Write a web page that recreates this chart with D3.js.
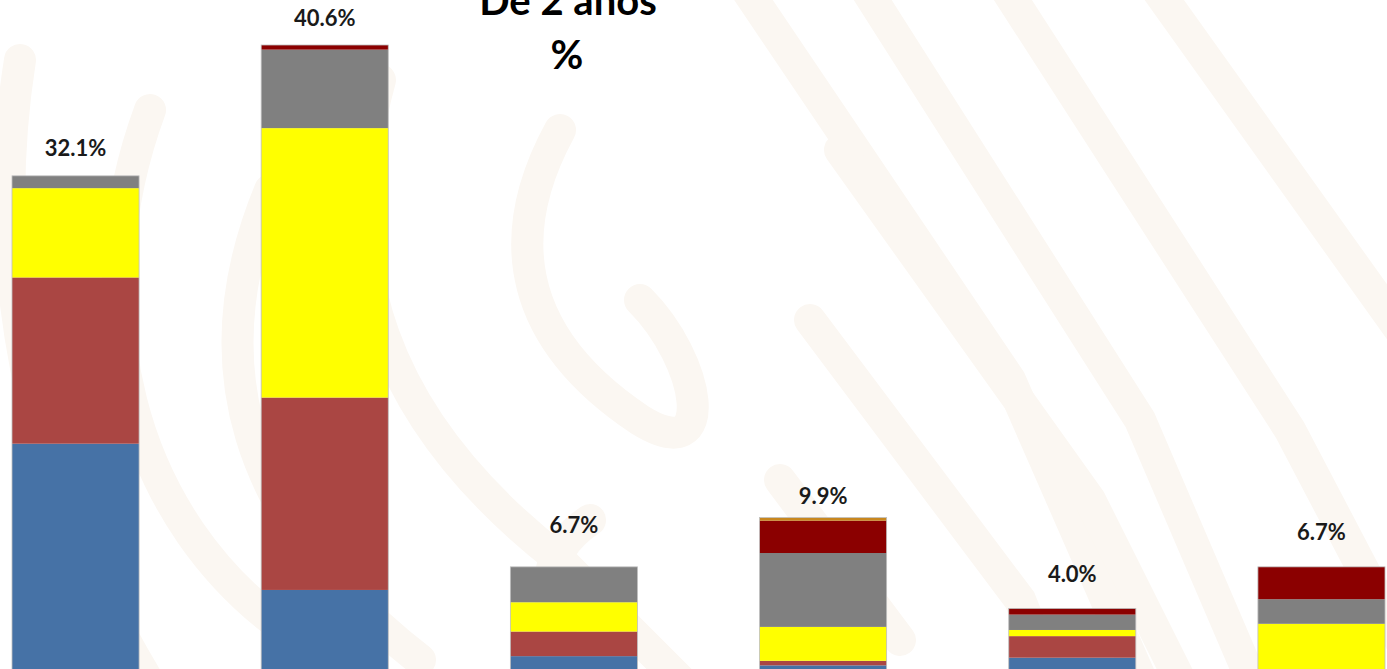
<!DOCTYPE html>
<html>
<head>
<meta charset="utf-8">
<script src="https://cdn.jsdelivr.net/npm/d3@7"></script>
<style>
  html, body { margin: 0; padding: 0; background: #ffffff; overflow: hidden; }
  svg { display: block; }
</style>
</head>
<body>
<div id="chart"></div>
<script>
// chart values (percent)
const categories = ['G1', 'G2', 'G3', 'G4', 'G5', 'G6'];
const serieNames = ['s1', 's2', 's3', 's4', 's5', 's6'];
const s1 = [14.7, 5.2, 0.9, 0.3, 0.8, 0.0];   // blue
const s2 = [10.8, 12.5, 1.6, 0.3, 1.4, 0.0];  // red
const s3 = [5.8, 17.5, 1.9, 2.2, 0.4, 3.0];   // yellow
const s4 = [0.8, 5.1, 2.3, 4.8, 1.0, 1.6];    // gray
const s5 = [0.0, 0.3, 0.0, 2.1, 0.4, 2.1];    // dark red
const s6 = [0.0, 0.0, 0.0, 0.2, 0.0, 0.0];    // orange
const totals = [32.1, 40.6, 6.7, 9.9, 4.0, 6.7];
const titleLines = ['De 2 años', '%'];

const width = 1387;
const height = 669;
const colors = ['#4672a6', '#aa4643', '#ffff00', '#808080', '#8b0000', '#c8871e'];
// labels were placed by hand in the original, gap above each bar top
const labelGap = [20, 19, 34, 14, 26, 27];

const svg = d3.select('#chart')
  .append('svg')
  .attr('width', width)
  .attr('height', height);

// faint watermark in the background
const wm = svg.append('g')
  .attr('fill', 'none')
  .attr('stroke', '#fbf7f2')
  .attr('stroke-width', 32)
  .attr('stroke-linecap', 'round');

const bands = [
  'M 860 -20 L 1140 420 L 1260 700',
  'M 1000 -20 L 1290 430 L 1400 640',
  'M 1150 -20 L 1400 330',
  'M 740 -20 L 1010 380 L 1150 700',
  'M 840 150 L 1090 500 L 1190 700',
  'M 810 320 L 1020 600 L 1060 700',
  'M 780 480 L 900 640',
  'M 150 110 C 80 300 120 520 300 640',
  'M 270 190 C 200 360 240 520 420 660',
  'M 380 80 C 330 260 380 420 560 560 L 700 700',
  'M 560 130 C 500 240 520 340 640 420 C 720 470 700 360 640 300',
  'M 20 60 C -10 250 20 480 160 700',
  'M 600 700 C 540 620 530 560 590 520'
];
wm.selectAll('path')
  .data(bands)
  .enter()
  .append('path')
  .attr('d', d => d);

// scales
const x = d3.scaleBand()
  .domain(categories)
  .range([12, 1385])
  .paddingInner(0.49)
  .paddingOuter(0);

const y = d3.scaleLinear()
  .domain([0, 40.6])
  .range([670, 45]);

// build table for the stack
const table = categories.map((c, i) => ({
  cat: c,
  s1: s1[i], s2: s2[i], s3: s3[i], s4: s4[i], s5: s5[i], s6: s6[i]
}));
const stacked = d3.stack().keys(serieNames)(table);

const layers = svg.selectAll('.layer')
  .data(stacked)
  .enter()
  .append('g')
  .attr('class', 'layer')
  .attr('fill', (d, i) => colors[i]);

layers.selectAll('rect')
  .data(d => d.filter(p => p[1] - p[0] > 0))
  .enter()
  .append('rect')
  .attr('x', d => x(d.data.cat))
  .attr('y', d => y(d[1]))
  .attr('width', x.bandwidth())
  .attr('height', d => y(d[0]) - y(d[1]));

// thin outline around each bar
svg.selectAll('.outline')
  .data(categories)
  .enter()
  .append('rect')
  .attr('class', 'outline')
  .attr('x', d => x(d))
  .attr('y', (d, i) => y(totals[i]))
  .attr('width', x.bandwidth())
  .attr('height', (d, i) => y(0) - y(totals[i]))
  .attr('fill', 'none')
  .attr('stroke', '#bfbfbf')
  .attr('stroke-width', 0.8);

// total labels
svg.selectAll('.total')
  .data(categories)
  .enter()
  .append('text')
  .attr('class', 'total')
  .attr('x', d => x(d) + x.bandwidth() / 2)
  .attr('y', (d, i) => y(totals[i]) - labelGap[i])
  .attr('text-anchor', 'middle')
  .style('font-family', 'Lato, "Open Sans", sans-serif')
  .style('font-weight', 'bold')
  .style('font-size', '22px')
  .style('fill', '#1a1a1a')
  .text((d, i) => totals[i].toFixed(1) + '%');

// title (cut at the top in the original)
svg.append('text')
  .attr('x', 568)
  .attr('y', 15)
  .attr('text-anchor', 'middle')
  .style('font-family', 'Lato, "Open Sans", sans-serif')
  .style('font-weight', 'bold')
  .style('font-size', '40px')
  .style('fill', '#000')
  .text(titleLines[0]);

svg.append('text')
  .attr('x', 567)
  .attr('y', 69)
  .attr('text-anchor', 'middle')
  .style('font-family', 'Lato, "Open Sans", sans-serif')
  .style('font-weight', 'bold')
  .style('font-size', '40px')
  .style('fill', '#000')
  .text(titleLines[1]);
</script>
</body>
</html>
